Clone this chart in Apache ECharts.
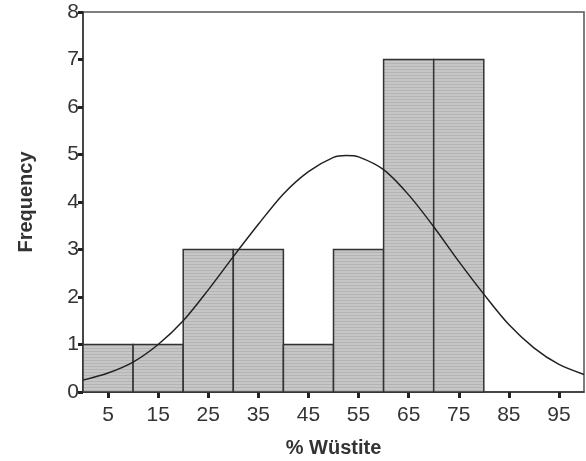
<!DOCTYPE html>
<html>
<head>
<meta charset="utf-8">
<script src="https://cdn.jsdelivr.net/npm/echarts@6/dist/echarts.min.js"></script>
<style>
  html, body { margin: 0; padding: 0; background: #fff; }
  #chart { width: 586px; height: 461px; }
</style>
</head>
<body>
<div id="chart"></div>
<script>
// histogram bins (lower edge, width 10) and counts
const binStarts = [0, 10, 20, 30, 40, 50, 60, 70]
const binWidth = 10
const counts = [1, 1, 3, 3, 1, 3, 7, 7]

// fitted normal curve
const curveX = [0, 5, 10, 15, 20, 25, 30, 35, 40, 45, 50, 52.5, 55, 60, 65, 70, 75, 80, 85, 90, 95, 100]
const curveY = [0.25, 0.40, 0.63, 1.00, 1.50, 2.15, 2.85, 3.53, 4.17, 4.64, 4.94, 4.98, 4.95, 4.68, 4.15, 3.48, 2.75, 2.06, 1.42, 0.93, 0.58, 0.37]

// tick labels
const xTicks = [5, 15, 25, 35, 45, 55, 65, 75, 85, 95]

// striped grey fill like the scanned bars
const pat = document.createElement('canvas')
pat.width = 4
pat.height = 3
const pctx = pat.getContext('2d')
pctx.fillStyle = '#c6c6c6'
pctx.fillRect(0, 0, 4, 3)
pctx.fillStyle = '#b4b4b4'
pctx.fillRect(0, 0, 4, 1)

const myChart = echarts.init(document.getElementById('chart'))

myChart.setOption({
    animation: false,
    grid: {
        left: 83, right: 2, top: 12, bottom: 69,
        outerBoundsMode: 'none',
        show: true,
        borderColor: '#555',
        borderWidth: 1.5
    },
    xAxis: {
        type: 'value',
        min: 0,
        max: 100,
        name: '% Wüstite',
        nameLocation: 'middle',
        nameGap: 46,
        nameTextStyle: { fontFamily: 'Liberation Sans', fontWeight: 'bold', fontSize: 20, color: '#333' },
        splitLine: { show: false },
        axisLine: { lineStyle: { color: '#333', width: 1.5 } },
        axisTick: {
            customValues: xTicks,
            length: 6,
            lineStyle: { color: '#222', width: 3 }
        },
        axisLabel: {
            customValues: xTicks,
            margin: 13,
            fontFamily: 'Liberation Sans',
            fontSize: 21,
            color: '#333'
        }
    },
    yAxis: {
        type: 'value',
        min: 0,
        max: 8,
        interval: 1,
        name: 'Frequency',
        nameLocation: 'middle',
        nameGap: 47,
        nameTextStyle: { fontFamily: 'Liberation Sans', fontWeight: 'bold', fontSize: 20, color: '#333' },
        splitLine: { show: false },
        axisLine: { show: true, lineStyle: { color: '#333', width: 1.5 } },
        axisTick: { show: true, length: 5, lineStyle: { color: '#222', width: 3 } },
        axisLabel: {
            margin: 4,
            fontFamily: 'Liberation Sans',
            fontSize: 21,
            color: '#333'
        }
    },
    series: [
        {
            type: 'custom',
            z: 2,
            data: binStarts.map((s, i) => [s, counts[i]]),
            renderItem: function (params, api) {
                const x0 = api.value(0)
                const p0 = api.coord([x0, 0])
                const p1 = api.coord([x0 + binWidth, api.value(1)])
                return {
                    type: 'rect',
                    shape: { x: p0[0], y: p1[1], width: p1[0] - p0[0], height: p0[1] - p1[1] },
                    style: {
                        fill: { image: pat, repeat: 'repeat' },
                        stroke: '#333',
                        lineWidth: 1.5
                    }
                }
            }
        },
        {
            type: 'line',
            z: 3,
            smooth: 0.3,
            showSymbol: false,
            lineStyle: { color: '#222', width: 1.5 },
            data: curveX.map((x, i) => [x, curveY[i]])
        }
    ]
})
</script>
</body>
</html>
